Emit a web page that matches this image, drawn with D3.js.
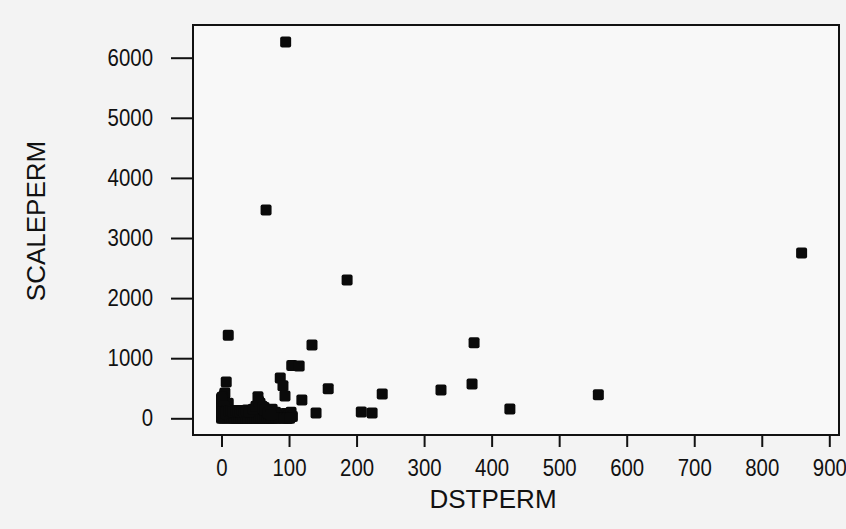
<!DOCTYPE html>
<html><head><meta charset="utf-8">
<script src="https://cdn.jsdelivr.net/npm/d3@7"></script>
<style>
html,body{margin:0;padding:0;background:#f3f3f3;}
svg{display:block;}
</style></head>
<body>
<script>
// data (DSTPERM, SCALEPERM)
const dstperm = [95,66,186,859,10,134,374,104,115,7,87,91,94,158,119,140,207,223,238,325,371,427,558,
  0,1,2,3,4,5,0,2,5,8,10,12,15,18,20,25,28,30,35,38,40,45,50,54,57,60,63,66,70,72,75,78,80,84,88,90,95,100,103,
  6,3,1,22,33,44,48,58,68,82,98,105,
  0,0,0,4,7,9,13,16,19,23,26,29,32,36,39,43,46,49,52,56,59,62,65,68,71,74,77,81,85,92,97,101,
  0,3,6,11,14,17,21,24,27,31,34,37,41,47,51,55,61,64,69,73];
const scaleperm = [6260,3465,2300,2750,1380,1220,1255,880,870,605,670,540,370,490,305,90,105,88,405,470,570,155,390,
  50,120,200,300,380,420,0,20,80,150,250,50,100,30,120,60,20,100,80,140,30,90,60,360,250,200,180,120,90,30,150,60,100,20,70,10,80,50,100,
  10,0,350,10,5,15,40,5,0,40,0,30,
  180,260,330,200,120,60,0,0,0,0,0,0,0,0,0,0,0,0,0,0,0,0,0,0,0,0,0,0,0,0,0,0,
  100,80,90,120,130,110,130,120,110,130,100,120,110,150,200,280,170,140,90,60];
const xTicks = [0,100,200,300,400,500,600,700,800,900];
const yTicks = [0,1000,2000,3000,4000,5000,6000];
const xTitle = "DSTPERM", yTitle = "SCALEPERM";

const W = 846, H = 529;
const frame = {l:193, t:25, r:839, b:435};
const x = d3.scaleLinear().domain([0,900]).range([221.5,829.3]);
const y = d3.scaleLinear().domain([0,6000]).range([418.3,57.7]);

const svg = d3.select("body").append("svg").attr("width",W).attr("height",H);
svg.append("rect").attr("width",W).attr("height",H).attr("fill","#f3f3f3");
svg.append("rect").attr("x",frame.l).attr("y",frame.t).attr("width",frame.r-frame.l).attr("height",frame.b-frame.t)
  .attr("fill","#f8f8f8");

const tickFont = "'Liberation Sans',Arial,sans-serif";
function squeeze(sel){
  sel.each(function(){
    const w = this.getComputedTextLength();
    d3.select(this).attr("textLength", w*0.85).attr("lengthAdjust","spacingAndGlyphs");
  });
}

const xAxis = d3.axisBottom(x).tickValues(xTicks).tickFormat(d3.format("d")).tickSize(12).tickSizeOuter(0).tickPadding(12);
const gx = svg.append("g").attr("transform",`translate(0,${frame.b})`).call(xAxis);
gx.select(".domain").remove();
gx.selectAll(".tick line").attr("stroke","#111").attr("stroke-width",2);
gx.selectAll(".tick text").attr("fill","#111")
  .style("font-family",tickFont).style("font-size","24px").call(squeeze);

const yAxis = d3.axisLeft(y).tickValues(yTicks).tickFormat(d3.format("d")).tickSize(22).tickSizeOuter(0).tickPadding(18);
const gy = svg.append("g").attr("transform",`translate(${frame.l},0)`).call(yAxis);
gy.select(".domain").remove();
gy.selectAll(".tick line").attr("stroke","#111").attr("stroke-width",2);
gy.selectAll(".tick text").attr("fill","#111")
  .style("font-family",tickFont).style("font-size","24px").call(squeeze);

svg.append("rect").attr("x",frame.l).attr("y",frame.t).attr("width",frame.r-frame.l).attr("height",frame.b-frame.t)
  .attr("fill","none").attr("stroke","#111").attr("stroke-width",2);

const pts = dstperm.map((d,i)=>({x:d,y:scaleperm[i]}));
svg.append("g").selectAll("rect").data(pts).enter().append("rect")
  .attr("x",d=>x(d.x)-5.5).attr("y",d=>y(d.y)-5.5).attr("width",11).attr("height",11).attr("rx",2)
  .attr("fill","#0a0a0a");

svg.append("text").attr("x",493).attr("y",508).attr("text-anchor","middle")
  .style("font-family","'Liberation Sans',Arial,sans-serif").style("font-size","26px").attr("fill","#111").text(xTitle);
svg.append("text").attr("transform","translate(45,221) rotate(-90)").attr("text-anchor","middle")
  .style("font-family","'Liberation Sans',Arial,sans-serif").style("font-size","26px").attr("fill","#111").text(yTitle);
</script>
</body></html>
